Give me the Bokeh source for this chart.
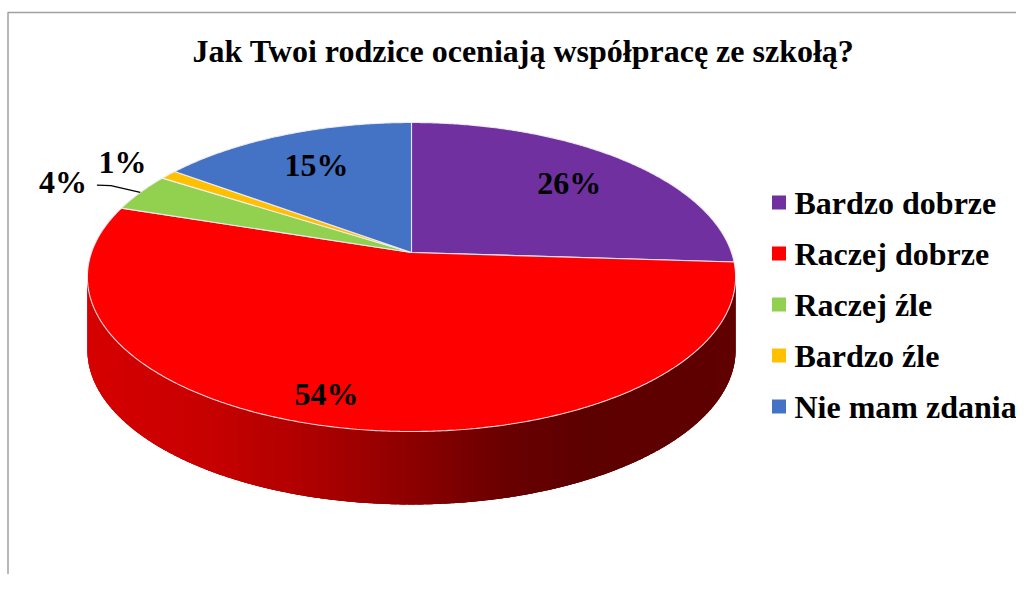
import math
from bokeh.plotting import figure
from bokeh.models import Range1d
from bokeh.core.properties import value
from bokeh.embed import file_html
from bokeh.resources import INLINE

# ---- data ----
title = "Jak Twoi rodzice oceniają współpracę ze szkołą?"
categories = ["Bardzo dobrze", "Raczej dobrze", "Raczej źle", "Bardzo źle", "Nie mam zdania"]
values = [26, 54, 4, 1, 15]
labels = ["26%", "54%", "4%", "1%", "15%"]
colors = ["#7030A0", "#FF0000", "#92D050", "#FFC000", "#4472C4"]

# ---- style / layout ----
label_r = [0.73, 0.85, 1.28, 1.2, 0.72]
label_dphi = [0, 5, -2, -0.5, 0]
FONT = value("Liberation Serif")

W, H = 1016, 574
p = figure(width=W, height=H, x_range=Range1d(0, W), y_range=Range1d(H, 0),
           output_backend="svg", toolbar_location=None, min_border=0,
           x_axis_type=None, y_axis_type=None)
p.grid.visible = False
p.outline_line_color = None
p.background_fill_color = "white"
p.border_fill_color = "white"

# chart frame
p.line([7.5, 7.5, W], [H, 12, 12], line_color="#A0A0A0", line_width=1.5)

# perspective projection of the pie disc
CX, CY, A, B, K, DEPTH = 411, 252, 320, 150.6, 0.1586, 73


def proj(phi, r=1.0, dy=0.0):
    ph = math.radians(phi)
    u, v = r * math.sin(ph), r * math.cos(ph)
    s = 1 + K * v
    return CX + A * u / s, CY - B * v / s + dy


total = sum(values)
starts, ends = [], []
acc = 0
for v in values:
    starts.append(acc / total * 360)
    acc += v
    ends.append(acc / total * 360)

# ---- side wall (front, visible part) ----
stops = [(87, (214, 0, 0)), (200, (200, 0, 0)), (300, (176, 0, 0)), (411, (140, 0, 0)),
         (500, (106, 0, 0)), (580, (93, 0, 0)), (740, (96, 0, 0))]


def side_color(x):
    if x <= stops[0][0]:
        c = stops[0][1]
    elif x >= stops[-1][0]:
        c = stops[-1][1]
    else:
        for (x0, c0), (x1, c1) in zip(stops[:-1], stops[1:]):
            if x0 <= x <= x1:
                t = (x - x0) / (x1 - x0)
                c = tuple(int(round(a + (b - a) * t)) for a, b in zip(c0, c1))
                break
    return "#%02x%02x%02x" % c


phi_r = math.degrees(math.acos(-K))
phi_l = 360 - phi_r
n = 120
step = (phi_l - phi_r) / n

# full side base polygon
arc = [phi_r + step * i for i in range(n + 1)]
top_pts = [proj(f) for f in arc]
bot_pts = [proj(f, dy=DEPTH) for f in reversed(arc)]
p.patch([q[0] for q in top_pts + bot_pts], [q[1] for q in top_pts + bot_pts],
        fill_color="#900000", line_color=None)

xs_side, ys_side, cols_side = [], [], []
for i in range(n):
    f1 = max(phi_r, phi_r + step * (i - 0.4))
    f2 = min(phi_l, phi_r + step * (i + 1.4))
    sub = [f1 + (f2 - f1) * j / 4 for j in range(5)]
    t = [proj(f) for f in sub]
    b = [proj(f, dy=DEPTH) for f in reversed(sub)]
    xs_side.append([q[0] for q in t + b])
    ys_side.append([q[1] for q in t + b])
    cols_side.append(side_color(proj(phi_r + step * (i + 0.5))[0]))
p.patches(xs_side, ys_side, fill_color=cols_side, line_color=None)

# ---- top face slices ----
xs_top, ys_top = [], []
for s, e in zip(starts, ends):
    m = max(2, int((e - s) / 0.5))
    pts = [proj(s + (e - s) * j / m) for j in range(m + 1)]
    xs_top.append([CX] + [q[0] for q in pts])
    ys_top.append([CY] + [q[1] for q in pts])
p.patches(xs_top, ys_top, fill_color=colors, line_color="#F2EEF6", line_width=1.1, line_alpha=0.9)

# ---- data labels ----
lx, ly = [], []
for s, e, r, d in zip(starts, ends, label_r, label_dphi):
    x, y = proj((s + e) / 2 + d, r)
    lx.append(x)
    ly.append(y)
p.text(lx, ly, text=labels, text_font=FONT, text_font_style="bold", text_font_size="32px",
       text_align="center", text_baseline="middle", text_color="black")

# leader line for small slice "Raczej źle"
i4 = 2
ex, ey = proj((starts[i4] + ends[i4]) / 2, 1.0)
p.line([lx[i4] + 34, lx[i4] + 48, ex], [ly[i4] + 3, ly[i4] + 3.5, ey], line_color="black", line_width=1.2)

# ---- title ----
p.text([523], [50], text=[title], text_font=FONT, text_font_style="bold", text_font_size="32px",
       text_align="center", text_baseline="middle", text_color="black")

# ---- legend ----
leg_y = [202 + 51 * i for i in range(len(categories))]
p.rect([778.5] * len(categories), leg_y, width=14, height=14, fill_color=colors, line_color=None)
p.text([794] * len(categories), leg_y, text=categories, text_font=FONT,
       text_font_style="bold", text_font_size="32px", text_align="left",
       text_baseline="middle", text_color="black")

open("out.html", "w").write(file_html(p, INLINE))
